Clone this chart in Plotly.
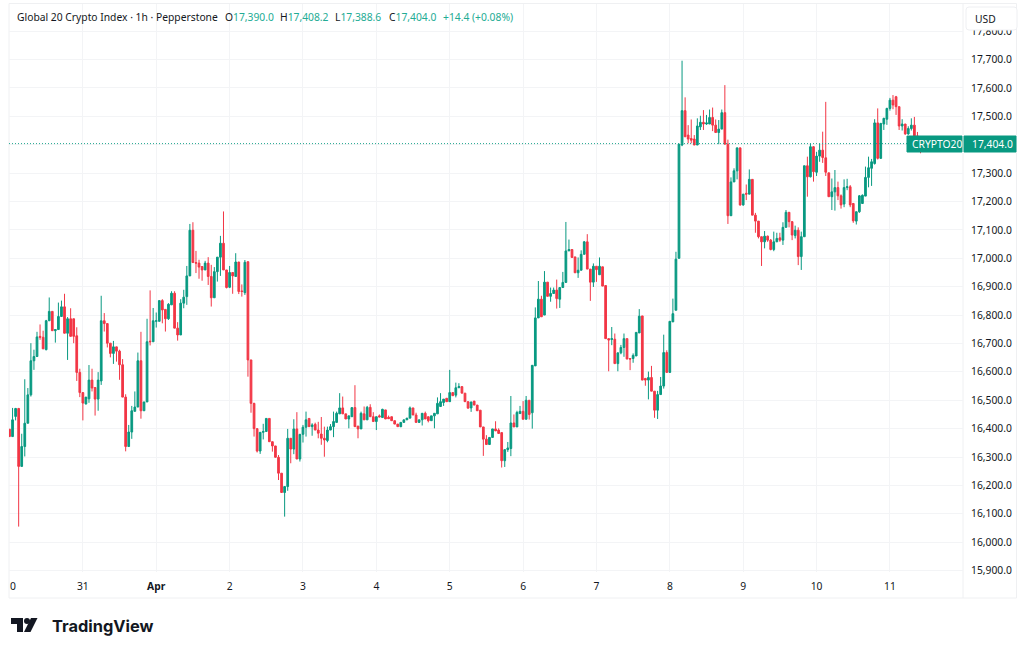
import pandas as pd
import plotly.graph_objects as go

opens = [
16398,16372,16443,16471,16267,16337,16419,16519,16639,16654,
16725,16722,16678,16780,16813,16745,16749,16795,16829,16736,
16787,16787,16727,16598,16527,16487,16505,16571,16545,16504,
16568,16780,16770,16701,16665,16688,16673,16625,16511,16337,
16388,16461,16476,16639,16463,16494,16708,16706,16778,16778,
16851,16820,16787,16836,16877,16754,16730,16842,16865,16938,
17099,16985,16983,16971,16959,16983,16936,16861,16953,17004,
17053,16959,16898,16950,16936,16987,16885,16879,16988,16642,
16489,16400,16321,16387,16390,16436,16354,16339,16299,16243,
16175,16196,16366,16328,16399,16293,16380,16405,16436,16407,
16415,16395,16381,16366,16358,16395,16407,16422,16452,16473,
16452,16434,16442,16474,16409,16399,16452,16431,16475,16442,
16425,16445,16439,16466,16440,16442,16428,16416,16407,16422,
16431,16437,16473,16448,16422,16431,16454,16442,16428,16445,
16452,16478,16492,16507,16495,16527,16518,16544,16548,16525,
16495,16473,16497,16483,16465,16406,16363,16344,16369,16399,
16395,16386,16287,16326,16330,16420,16406,16453,16461,16433,
16500,16456,16621,16790,16856,16800,16916,16866,16876,16888,
16856,16897,16915,17026,17031,17005,16949,16958,17014,17058,
16962,16916,16972,16942,16970,16904,16717,16714,16715,16629,
16667,16686,16717,16647,16647,16656,16737,16797,16577,16571,
16580,16532,16465,16520,16550,16668,16598,16776,16817,17000,
17399,17520,17434,17422,17420,17399,17463,17479,17473,17473,
17496,17469,17443,17455,17513,17402,17150,17269,17308,17389,
17188,17229,17226,17278,17152,17131,17076,17058,17078,17064,
17031,17058,17072,17064,17109,17162,17129,17080,17099,17006,
17076,17326,17287,17393,17303,17360,17381,17354,17301,17217,
17234,17249,17220,17191,17249,17252,17193,17131,17164,17193,
17219,17285,17317,17334,17477,17352,17473,17490,17528,17557,
17569,17534,17466,17473,17438,17457,17469,17431,17413,17390.0]

highs = [
16398,16473,16473,16473,16382,16574,16543,16701,16678,16741,
16767,16745,16783,16862,16813,16749,16844,16851,16875,16793,
16824,16787,16757,16611,16527,16511,16624,16611,16545,16599,
16868,16807,16770,16701,16709,16688,16678,16645,16521,16413,
16480,16531,16668,16741,16494,16787,16887,16825,16809,16851,
16856,16820,16842,16884,16884,16775,16856,16889,16973,17121,
17127,17026,16995,16971,16991,17004,16977,16969,17004,17079,
17165,16959,16973,16950,17018,16987,16908,16994,16988,16642,
16491,16400,16387,16417,16436,16436,16354,16339,16307,16243,
16196,16399,16366,16433,16458,16380,16413,16460,16436,16419,
16421,16424,16441,16407,16407,16416,16460,16460,16525,16513,
16452,16445,16474,16553,16409,16460,16478,16480,16486,16458,
16442,16450,16470,16466,16446,16442,16428,16416,16422,16431,
16437,16478,16473,16456,16431,16454,16460,16442,16445,16454,
16510,16525,16504,16507,16607,16527,16562,16560,16548,16525,
16495,16494,16497,16483,16465,16406,16377,16369,16399,16426,
16401,16386,16326,16353,16515,16450,16463,16480,16497,16515,
16500,16623,16827,16920,16868,16955,16916,16897,16897,16925,
16897,16952,17128,17066,17031,17005,17003,17028,17061,17085,
16962,16982,16972,17003,16970,16904,16717,16758,16735,16667,
16695,16735,16717,16647,16665,16739,16821,16797,16577,16601,
16621,16532,16533,16582,16731,16676,16778,16858,17023,17402,
17696,17567,17469,17489,17434,17493,17502,17522,17505,17524,
17531,17489,17487,17524,17610,17418,17285,17317,17389,17389,
17226,17260,17313,17278,17160,17131,17076,17096,17080,17068,
17094,17090,17090,17127,17170,17162,17131,17115,17109,17094,
17326,17358,17405,17395,17375,17405,17446,17551,17301,17281,
17311,17270,17225,17278,17280,17258,17195,17164,17223,17225,
17323,17358,17350,17490,17528,17477,17495,17530,17565,17575,
17572,17534,17490,17473,17465,17493,17498,17445,17425,17408.2]

lows = [
16372,16372,16429,16055,16267,16302,16419,16513,16607,16654,
16713,16681,16676,16780,16745,16703,16749,16795,16736,16642,
16725,16701,16568,16511,16429,16485,16491,16531,16446,16463,
16554,16742,16686,16651,16628,16636,16572,16511,16320,16337,
16364,16461,16476,16435,16463,16494,16693,16706,16756,16778,
16771,16742,16783,16836,16754,16710,16730,16824,16836,16938,
16985,16948,16928,16921,16959,16906,16830,16861,16918,16938,
16959,16894,16895,16875,16936,16874,16865,16871,16583,16456,
16372,16316,16311,16362,16390,16354,16319,16299,16219,16175,
16090,16181,16278,16310,16293,16284,16351,16372,16407,16375,
16395,16366,16343,16301,16352,16395,16370,16422,16452,16452,
16434,16401,16442,16407,16366,16399,16431,16431,16442,16425,
16395,16441,16439,16434,16435,16428,16416,16407,16405,16422,
16431,16437,16448,16422,16420,16411,16434,16422,16428,16401,
16452,16476,16480,16495,16495,16516,16510,16544,16525,16495,
16472,16459,16483,16463,16406,16304,16344,16344,16369,16392,
16383,16263,16265,16318,16303,16406,16406,16453,16433,16433,
16432,16400,16621,16790,16794,16800,16866,16847,16876,16823,
16825,16897,16915,17026,17003,16949,16931,16958,17014,16962,
16850,16899,16917,16942,16902,16717,16602,16694,16629,16602,
16662,16653,16645,16606,16632,16656,16737,16571,16551,16503,
16532,16438,16434,16520,16541,16598,16598,16776,16817,17000,
17395,17428,17405,17405,17399,17399,17452,17452,17470,17473,
17448,17443,17402,17455,17402,17121,17150,17269,17278,17185,
17185,17205,17226,17152,17090,17070,16973,17035,17058,17028,
17025,17058,17058,17047,17109,17109,17064,17070,16976,16959,
17076,17217,17285,17270,17290,17340,17336,17290,17217,17170,
17168,17205,17175,17180,17240,17180,17125,17119,17160,17193,
17219,17250,17255,17330,17348,17350,17452,17470,17520,17525,
17505,17452,17450,17435,17435,17450,17425,17400,17370,17388.6]

closes = [
16372,16431,16471,16267,16337,16419,16519,16639,16654,16723,
16722,16681,16780,16813,16745,16749,16795,16829,16736,16787,
16725,16725,16598,16527,16490,16511,16571,16543,16504,16571,
16780,16770,16701,16665,16688,16673,16625,16511,16337,16388,
16463,16476,16639,16463,16494,16706,16706,16780,16780,16851,
16818,16787,16838,16877,16754,16730,16842,16863,16938,17099,
16985,16983,16969,16959,16983,16936,16861,16953,17004,17053,
16959,16897,16950,16938,16987,16883,16883,16986,16642,16489,
16400,16321,16387,16390,16436,16354,16339,16299,16243,16175,
16196,16366,16328,16399,16293,16380,16405,16431,16407,16413,
16395,16384,16366,16360,16395,16407,16425,16454,16473,16452,
16434,16445,16474,16407,16399,16454,16431,16475,16442,16425,
16442,16441,16468,16434,16435,16428,16416,16407,16422,16431,
16437,16473,16448,16422,16431,16454,16434,16428,16445,16454,
16489,16495,16504,16495,16527,16516,16544,16548,16525,16495,
16472,16494,16483,16463,16406,16363,16344,16369,16399,16392,
16383,16287,16326,16332,16420,16406,16457,16461,16433,16500,
16450,16623,16790,16856,16794,16916,16866,16876,16888,16858,
16897,16915,17026,17031,17003,16949,16958,17014,17058,16962,
16916,16972,16960,16972,16902,16717,16712,16717,16629,16667,
16686,16717,16645,16645,16658,16739,16796,16571,16571,16580,
16532,16465,16520,16550,16668,16598,16778,16805,16997,17402,
17520,17428,17420,17416,17399,17466,17479,17473,17477,17496,
17469,17443,17455,17513,17402,17150,17269,17308,17389,17188,
17226,17226,17278,17152,17131,17076,17058,17078,17064,17031,
17058,17070,17064,17109,17162,17129,17082,17099,17006,17076,
17326,17287,17393,17305,17360,17381,17355,17303,17217,17234,
17249,17220,17188,17249,17252,17188,17132,17164,17220,17222,
17285,17319,17340,17477,17352,17475,17493,17528,17557,17540,
17534,17466,17473,17438,17457,17469,17431,17413,17390,17404.0]

day_ticks = ["2025-03-31","2025-04-01","2025-04-02","2025-04-03","2025-04-04","2025-04-05",
             "2025-04-06","2025-04-07","2025-04-08","2025-04-09","2025-04-10","2025-04-11"]
day_labels = ["31","<b>Apr</b>","2","3","4","5","6","7","8","9","10","11"]
last_price = 17404.0

W, H = 1024, 652
GREEN, RED, INK = "#089981", "#F23645", "#131722"
GRID = "#F3F4F6"
FONT = "Noto Sans"

def px(x): return x / W
def py(y): return 1 - y / H

times = pd.date_range("2025-03-30 00:00", periods=len(opens), freq="h")
t0 = times[0]
def hour(h): return (t0 + pd.Timedelta(hours=h)).strftime("%Y-%m-%d %H:%M:%S")

fig = go.Figure(go.Candlestick(
    x=times, open=opens, high=highs, low=lows, close=closes,
    increasing=dict(line=dict(color=GREEN, width=1), fillcolor=GREEN),
    decreasing=dict(line=dict(color=RED, width=1), fillcolor=RED),
    whiskerwidth=0, hoverinfo="skip", showlegend=False))

def rect(x0, y0, x1, y1, fill, line=None):
    return dict(type="rect", xref="paper", yref="paper", x0=px(x0), x1=px(x1), y0=py(y0), y1=py(y1),
                fillcolor=fill, line=dict(color=line or fill, width=1), layer="above")

def note(text, x, y, color=INK, size=10.3, anchor="left", **kw):
    return dict(text=text, xref="paper", yref="paper", x=px(x), y=py(y), xanchor=anchor, yanchor="middle",
                showarrow=False, font=dict(family=kw.pop("family", FONT), size=size, color=color),
                borderpad=0, **kw)

shapes = [
    dict(type="rect", xref="paper", yref="paper", x0=px(9), x1=px(1016.5), y0=py(3.5), y1=py(598),
         line=dict(color="#EFF0F2", width=1), fillcolor="rgba(0,0,0,0)", layer="below"),
    dict(type="line", xref="paper", yref="paper", x0=px(963), x1=px(963), y0=py(3.5), y1=py(598),
         line=dict(color="#EFF0F2", width=1), layer="below"),
    dict(type="line", xref="paper", yref="y", x0=px(9), x1=px(963), y0=last_price, y1=last_price,
         line=dict(color="#1FA58E", width=1, dash="1px,2px"), layer="above"),
    rect(907, 136, 962, 152, GREEN),
    rect(964, 136, 1016, 152, GREEN),
    dict(type="path", xref="paper", yref="paper", layer="above", fillcolor="#FFFFFF",
         line=dict(color="#EEEFF2", width=1),
         path="M {} {} L {} {} Q {} {} {} {} L {} {} Q {} {} {} {} L {} {} Q {} {} {} {} L {} {} Q {} {} {} {} Z".format(
             px(969), py(7), px(1014), py(7), px(1017), py(7), px(1017), py(10),
             px(1017), py(27), px(1017), py(30), px(1014), py(30),
             px(969), py(30), px(966), py(30), px(966), py(27),
             px(966), py(10), px(966), py(7), px(969), py(7))),
    # TradingView mark
    dict(type="path", xref="paper", yref="paper", layer="above", fillcolor="#131722", line=dict(width=0),
         path="M {} {} L {} {} L {} {} L {} {} L {} {} L {} {} Z".format(
             px(11), py(618), px(23), py(618), px(23), py(632), px(17), py(632), px(17), py(624), px(11), py(624))),
    dict(type="circle", xref="paper", yref="paper", layer="above", fillcolor="#131722", line=dict(width=0),
         x0=px(24), x1=px(30), y0=py(618), y1=py(624)),
    dict(type="path", xref="paper", yref="paper", layer="above", fillcolor="#131722", line=dict(width=0),
         path="M {} {} L {} {} L {} {} L {} {} Z".format(
             px(31), py(618), px(37.5), py(618), px(30.5), py(632), px(24), py(632))),
]

VAL = "#22AB94"
annotations = [
    note("Global 20 Crypto Index · 1h · Pepperstone", 16, 17),
    note(f'O<span style="color:{VAL}">17,390.0</span>', 224, 17),
    note(f'H<span style="color:{VAL}">17,408.2</span>', 279.3, 17),
    note(f'L<span style="color:{VAL}">17,388.6</span>', 334.3, 17),
    note(f'C<span style="color:{VAL}">17,404.0</span>', 387.7, 17),
    note("+14.4 (+0.08%)", 442.3, 17, color=VAL),
    note("USD", 974, 18.5),
    note("CRYPTO20", 911, 144, color="#FFFFFF"),
    note("17,404.0", 971, 144, color="#FFFFFF"),
    note("0", 9, 586),
    note("<b>TradingView</b>", 51, 625.5, size=16.4, family="Inter", color="#131722"),
]

fig.update_layout(
    width=W, height=H, margin=dict(l=0, r=0, t=0, b=0),
    paper_bgcolor="#FFFFFF", plot_bgcolor="#FFFFFF",
    font=dict(family=FONT, size=10.3, color=INK),
    shapes=shapes, annotations=annotations, hovermode=False, boxgap=0.2,
    xaxis=dict(domain=[px(9), px(963)], type="date", range=[hour(-0.16), hour(311.9)], automargin=False,
               rangeslider=dict(visible=False), tickmode="array", tickvals=day_ticks, ticktext=day_labels,
               showgrid=True, gridcolor=GRID, gridwidth=1, ticks="", zeroline=False, showline=False,
               ticklabelstandoff=7, tickangle=0, tickfont=dict(family=FONT, size=10.3, color=INK)),
    yaxis=dict(domain=[py(572), py(3.5)], range=[15895, 17897.5], side="right", anchor="x", automargin=False,
               tickmode="linear", tick0=15900, dtick=100, tickformat=",.1f", separatethousands=True,
               showgrid=True, gridcolor=GRID, gridwidth=1, ticks="", zeroline=False, showline=False,
               ticklabelstandoff=7, tickfont=dict(family=FONT, size=10.3, color=INK)),
)

fig.write_html("out.html", config=dict(displayModeBar=False, staticPlot=True),
               post_script="document.body.style.margin='0';document.body.style.overflow='hidden';")
